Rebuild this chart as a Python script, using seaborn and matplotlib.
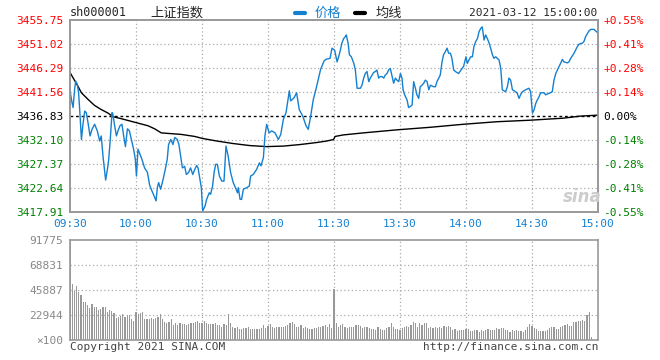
import numpy as np
import pandas as pd
import seaborn as sns
import matplotlib.pyplot as plt
from matplotlib.lines import Line2D

sns.set_theme(style="white")
plt.rcParams['font.family'] = ['DejaVu Sans Mono', 'Noto Sans CJK SC']

# ---- data ----
prev_close = 3436.83
price_ticks = [3455.75, 3451.02, 3446.29, 3441.56, 3436.83, 3432.10, 3427.37, 3422.64, 3417.91]
pct_labels = ['+0.55%', '+0.41%', '+0.28%', '+0.14%', '0.00%', '-0.14%', '-0.28%', '-0.41%', '-0.55%']
time_ticks = [0, 30, 60, 90, 120, 150, 180, 210, 240]
time_labels = ['09:30', '10:00', '10:30', '11:00', '11:30', '13:30', '14:00', '14:30', '15:00']
vol_ticks = [0, 22944, 45887, 68831, 91775]
vol_labels = ['×100', '22944', '45887', '68831', '91775']

# price line (minute from 09:30, trading minutes only)
price_min = [0, 0.9, 1.4, 2.1, 2.6, 3.3, 3.9, 4.4, 5.2, 5.9, 6.7, 7.4, 8.2, 9.1, 10, 11.2, 12.4, 13.5, 14.2, 15,
             15.8, 16.2, 17, 17.6, 18.3, 19.1, 19.5, 20.3, 21.1, 21.8, 22.7, 23.6, 24.4, 25.2, 26.1, 27, 27.9, 28.9, 29.7, 30.2,
             30.9, 31.8, 32.7, 33.9, 35.2, 36.2, 37.3, 38.2, 39.1, 39.7, 40.3, 41.2, 42.3, 43.3, 44.2, 44.8, 45.8, 46.8, 47.6, 48.8,
             49.5, 50.3, 51.1, 52.1, 52.9, 53.9, 54.8, 55.8, 56.7, 57.6, 58.2, 59.1, 59.7, 60.3, 61.4, 62.1, 63.3, 63.9, 64.8, 65.5,
             66.2, 67, 67.9, 69, 70, 70.9, 71.9, 73, 74.2, 75.5, 76.1, 76.5, 77.3, 78, 78.8, 80.3, 81.5, 82.1, 83.3, 84.8,
             86.1, 86.8, 87.9, 88.6, 89.4, 90.5, 91.7, 93.2, 94.7, 95.8, 97, 98.2, 99.7, 100.3, 101.8, 103, 104.2, 105.8, 107.3, 108.3,
             109.4, 110.6, 111.8, 112.9, 113.9, 115.5, 116.4, 118.2, 119.1, 120.3, 120.9, 121.4, 122.1, 122.9, 123.6, 124.4, 125.2, 125.6, 126.4, 127,
             127.9, 129, 129.7, 130.5, 132, 132.7, 133.5, 134.2, 135, 135.8, 136.5, 137.3, 138, 138.8, 139.5, 140.3, 141, 141.8, 142.6, 143.3,
             144.1, 144.8, 145.6, 146.4, 147.1, 147.9, 148.6, 149.4, 150.2, 150.9, 151.4, 152.1, 153.2, 153.9, 154.7, 155.5, 156.2, 157, 157.7, 158.5,
             159.2, 160, 160.8, 161.5, 162.3, 163.1, 163.8, 165.3, 166.1, 166.8, 167.6, 168.3, 169.1, 169.8, 170.6, 171.4, 172.1, 172.9, 173.6, 174.4,
             175.2, 176.6, 178.2, 178.9, 180, 180.6, 181.4, 182.1, 182.9, 183.6, 184.4, 185.2, 185.9, 186.7, 187.4, 188.2, 188.9, 189.7, 190.5, 191.2,
             192, 192.7, 193.5, 194.2, 195, 195.8, 196.5, 198, 198.8, 199.5, 200.3, 201.1, 202.6, 203.3, 204.1, 204.8, 205.6, 207.1, 208.6, 209.4,
             209.8, 210.2, 210.9, 211.7, 212.4, 213.2, 213.9, 215.5, 216.2, 217.7, 219.2, 220, 220.8, 222.3, 223, 223.8, 224.5, 226.1, 226.8, 227.6,
             229.1, 230.6, 231.4, 232.9, 233.6, 234.4, 235.2, 235.9, 236.7, 238.2, 238.9, 239.7, 240]
price_val = [3441.8, 3439.5, 3438.5, 3442.1, 3443.7, 3443.1, 3441.4, 3438.1, 3432.2, 3435.2, 3437.8, 3437.5, 3435.5, 3432.9, 3434.2, 3435.2, 3433.9, 3431.9, 3432.9, 3428.9,
             3425.7, 3424.2, 3426.3, 3428.3, 3432.2, 3437.5, 3437.2, 3434.9, 3432.9, 3433.9, 3434.9, 3435.2, 3432.9, 3430.8, 3434.3, 3433.9, 3432.2, 3430.3, 3428.3, 3425.0,
             3430.3, 3429.3, 3428.3, 3426.6, 3425.7, 3423.2, 3422.0, 3421.1, 3420.1, 3422.7, 3423.7, 3422.4, 3424.3, 3426.3, 3428.3, 3431.2, 3432.2, 3431.2, 3432.6, 3432.2,
             3431.2, 3428.9, 3426.6, 3426.9, 3425.3, 3425.7, 3426.6, 3425.3, 3426.3, 3427.1, 3426.6, 3424.3, 3422.7, 3418.1, 3419.1, 3420.4, 3421.7, 3421.4, 3423.0, 3425.7,
             3427.3, 3427.3, 3425.0, 3424.0, 3424.0, 3430.9, 3428.9, 3425.7, 3423.7, 3422.4, 3421.7, 3422.7, 3420.4, 3420.4, 3422.4, 3422.7, 3423.0, 3425.0, 3425.3, 3426.3,
             3427.6, 3427.0, 3428.6, 3432.9, 3435.2, 3433.5, 3433.9, 3433.5, 3432.2, 3433.2, 3436.2, 3437.5, 3441.8, 3439.8, 3440.4, 3441.4, 3438.1, 3436.8, 3434.9, 3434.2,
             3436.8, 3440.1, 3442.1, 3444.1, 3446.0, 3447.7, 3448.0, 3448.2, 3450.2, 3449.8, 3448.5, 3447.5, 3448.5, 3449.8, 3451.2, 3452.1, 3452.5, 3452.8, 3451.2, 3448.9,
             3448.5, 3447.2, 3445.9, 3442.3, 3442.3, 3442.9, 3444.3, 3445.2, 3445.6, 3443.6, 3444.3, 3444.9, 3445.4, 3445.6, 3445.9, 3444.3, 3444.6, 3444.6, 3444.3, 3444.9,
             3445.2, 3445.9, 3446.2, 3444.6, 3443.3, 3444.3, 3443.9, 3443.6, 3445.2, 3444.3, 3442.0, 3441.0, 3440.0, 3438.5, 3438.7, 3439.0, 3443.6, 3442.3, 3441.0, 3440.3,
             3442.6, 3442.9, 3443.3, 3443.9, 3443.6, 3442.0, 3442.9, 3442.6, 3442.6, 3443.6, 3444.3, 3444.9, 3447.5, 3448.9, 3449.5, 3450.2, 3449.2, 3449.2, 3448.2, 3445.9,
             3445.6, 3445.2, 3446.2, 3446.6, 3448.5, 3447.2, 3447.9, 3448.5, 3448.5, 3450.5, 3451.5, 3452.1, 3453.4, 3454.1, 3454.4, 3451.8, 3452.8, 3452.1, 3451.2, 3450.2,
             3448.9, 3448.2, 3448.5, 3448.2, 3447.9, 3446.2, 3442.0, 3441.6, 3442.6, 3444.3, 3443.9, 3442.0, 3441.6, 3441.3, 3440.3, 3441.0, 3441.6, 3442.0, 3442.3, 3441.6,
             3439.3, 3437.4, 3438.0, 3439.3, 3440.0, 3440.6, 3441.4, 3441.4, 3441.0, 3441.3, 3441.6, 3443.9, 3445.2, 3446.6, 3447.2, 3448.0, 3447.5, 3447.3, 3447.5, 3448.2,
             3449.2, 3450.5, 3451.0, 3451.2, 3451.5, 3452.5, 3453.1, 3453.6, 3453.9, 3453.9, 3453.6, 3453.3, 3453.2]

# average price line
avg_min = [0, 3.6, 5.2, 8.2, 11.2, 14.2, 17.3, 19.5, 23.3, 29.4, 35.5, 38.5, 41.5, 44.5, 50.6, 56.7, 60.3, 66.7, 74.2, 81.8,
           89.4, 97, 104.5, 112.1, 116.7, 119.8, 120.5, 124.2, 133.3, 148.5, 163.6, 178.8, 194, 209.1, 224.2, 231.8, 240]
avg_val = [3445.4, 3442.7, 3441.4, 3440.1, 3438.9, 3438.1, 3437.4, 3436.7, 3436.3, 3435.6, 3434.9, 3434.3, 3433.5, 3433.4, 3433.2, 3432.8, 3432.4, 3431.9, 3431.4, 3431.0,
           3430.8, 3430.9, 3431.2, 3431.6, 3431.9, 3432.2, 3432.8, 3433.1, 3433.5, 3434.1, 3434.6, 3435.2, 3435.7, 3436.0, 3436.4, 3436.8, 3437.0]

# volume (x100 shares), one bar per minute
vol_am = [91775, 51400, 45000, 49600, 44400, 41300, 35200, 35200, 32100, 29100, 33000,
          30000, 30000, 27500, 28400, 30000, 30000, 26000, 27500, 26900, 25100,
          19900, 20800, 22000, 23900, 20800, 22000, 22900, 19000, 17700, 26000,
          23900, 24500, 26000, 19000, 19000, 19600, 19900, 19000, 19900, 21400,
          23900, 19000, 16800, 15900, 16800, 19000, 13800, 15300, 13800, 15300,
          14700, 14700, 13800, 14700, 15300, 15300, 16500, 17400, 15300, 15900,
          17700, 15900, 14700, 14700, 14700, 15300, 13500, 13800, 12200, 14700,
          13500, 23900, 15300, 12200, 10700, 11600, 10400, 10400, 10700, 10700,
          12200, 9800, 10100, 10100, 10100, 10100, 10700, 13800, 10700, 13200,
          14700, 11600, 10700, 12200, 12200, 11600, 11600, 12800, 13800, 15300,
          16800, 14700, 12200, 12200, 13500, 10700, 12200, 10700, 10100, 10100,
          10700, 10700, 11600, 12200, 13200, 13800, 12200, 14700, 10700]
vol_pm = [46500,
          15300, 12200, 13800, 14700, 12200, 10700, 11600, 12200, 12200, 13800,
          13800, 12800, 10700, 11600, 12200, 10700, 10400, 10400, 9200, 12200,
          9800, 9200, 9200, 10700, 11600, 15300, 12200, 10400, 9800, 9200,
          11300, 12200, 12800, 12200, 13800, 16200, 15900, 12200, 15300, 13800,
          15300, 15900, 10700, 11600, 10700, 12200, 10700, 12200, 10700, 12800,
          12200, 13200, 11600, 9200, 10100, 8600, 9200, 9200, 9200, 9800,
          10100, 8600, 8600, 9200, 9200, 7600, 9200, 8600,
          9200, 9800, 9200, 9200, 9200, 10700, 10400, 10700,
          10700, 9200, 9200, 7600, 9200, 8600, 9200, 8600, 8300, 7600,
          9200, 12200, 14700, 12800, 10700, 9800, 8600, 8600, 8600, 8600,
          9200, 10700, 12200, 11600, 9800, 10100, 11600, 12800, 13800, 14700,
          12800, 12800, 16800, 16500, 17700, 17700, 18400, 17700, 22600, 26000, 3100]

vol = pd.DataFrame({'minute': np.arange(len(vol_am) + len(vol_pm)), 'volume': vol_am + vol_pm})

# ---- figure ----
BLUE = '#1580d0'
GRID = '#aaaaaa'
FRAME = '#999999'
fig = plt.figure(figsize=(6.6, 3.6), dpi=100)
ax = fig.add_axes([70/660, 1-212/360, 528/660, 192/360])
axv = fig.add_axes([70/660, 1-340/360, 528/660, 100/360])

for t in time_ticks[1:-1]:
    ax.axvline(t, color=GRID, ls=(0, (1, 2)), lw=0.9, zorder=1)
    axv.axvline(t, color=GRID, ls=(0, (1, 2)), lw=0.9, zorder=1)
for p in price_ticks[1:-1]:
    if p != prev_close:
        ax.axhline(p, color=GRID, ls=(0, (1, 2)), lw=0.9, zorder=1)
ax.axhline(prev_close, color='black', ls=(0, (2, 2)), lw=1.0, zorder=2)
for v in vol_ticks[1:-1]:
    axv.axhline(v, color=GRID, ls=(0, (1, 2)), lw=0.9, zorder=1)

sns.lineplot(x=avg_min, y=avg_val, ax=ax, color='black', lw=1.0, zorder=3)
sns.lineplot(x=price_min, y=price_val, ax=ax, color=BLUE, lw=1.0, zorder=4)

ax.set_xlim(0, 240)
ax.set_ylim(price_ticks[-1], price_ticks[0])
ax.set_xticks(time_ticks)
ax.set_xticklabels(time_labels, color=BLUE, fontsize=8)
ax.set_yticks(price_ticks)
ax.set_yticklabels([f'{p:.2f}' for p in price_ticks], fontsize=8)
for lab, p in zip(ax.get_yticklabels(), price_ticks):
    lab.set_color('red' if p > prev_close else ('black' if p == prev_close else 'green'))
ax.tick_params(length=0, pad=5)
ax.set_xlabel('')
ax.set_ylabel('')

axr = ax.twinx()
axr.set_ylim(price_ticks[-1], price_ticks[0])
axr.set_yticks(price_ticks)
axr.set_yticklabels(pct_labels, fontsize=8)
for lab, p in zip(axr.get_yticklabels(), price_ticks):
    lab.set_color('red' if p > prev_close else ('black' if p == prev_close else 'green'))
axr.tick_params(length=0, pad=4)
axr.grid(False)

sns.barplot(data=vol, x='minute', y='volume', native_scale=True, color='#999999',
            width=0.5, errorbar=None, ax=axv, linewidth=0, saturation=1, zorder=2)
axv.set_xlim(0, 240)
axv.set_ylim(0, vol_ticks[-1])
axv.set_xticks([])
axv.set_yticks(vol_ticks)
axv.set_yticklabels(vol_labels, fontsize=8, color='#888888')
axv.tick_params(length=0, pad=5)
axv.set_xlabel('')
axv.set_ylabel('')

for a in (ax, axr, axv):
    for s in a.spines.values():
        s.set_color(FRAME)
        s.set_linewidth(1.2)

# header
fig.text(70/660, 1-13/360, 'sh000001', fontsize=8.5, va='center', ha='left')
fig.text(150/660, 1-13/360, '上证指数', fontsize=9.5, va='center', ha='left',
         family=['Noto Sans CJK SC', 'DejaVu Sans'])
fig.add_artist(Line2D([295/660, 305/660], [1-13/360, 1-13/360], color=BLUE, lw=3, transform=fig.transFigure))
fig.text(315/660, 1-13/360, '价格', fontsize=9.5, va='center', ha='left', color=BLUE,
         family=['Noto Sans CJK SC', 'DejaVu Sans'])
fig.add_artist(Line2D([355/660, 365/660], [1-13/360, 1-13/360], color='black', lw=3, transform=fig.transFigure))
fig.text(376/660, 1-13/360, '均线', fontsize=9.5, va='center', ha='left',
         family=['Noto Sans CJK SC', 'DejaVu Sans'])
fig.text(597/660, 1-13/360, '2021-03-12 15:00:00', fontsize=8, va='center', ha='right')

# watermark and footer
fig.text(582/660, 1-197/360, 'sina', fontsize=12, style='italic', weight='bold', color='#cccccc',
         ha='center', va='center', family='DejaVu Sans')
fig.text(70/660, 1-347/360, 'Copyright 2021 SINA.COM', fontsize=8, va='center', ha='left', color='#444444')
fig.text(598/660, 1-347/360, 'http://finance.sina.com.cn', fontsize=8, va='center', ha='right', color='#444444')

fig.savefig('out.png', dpi=100, facecolor='white')
